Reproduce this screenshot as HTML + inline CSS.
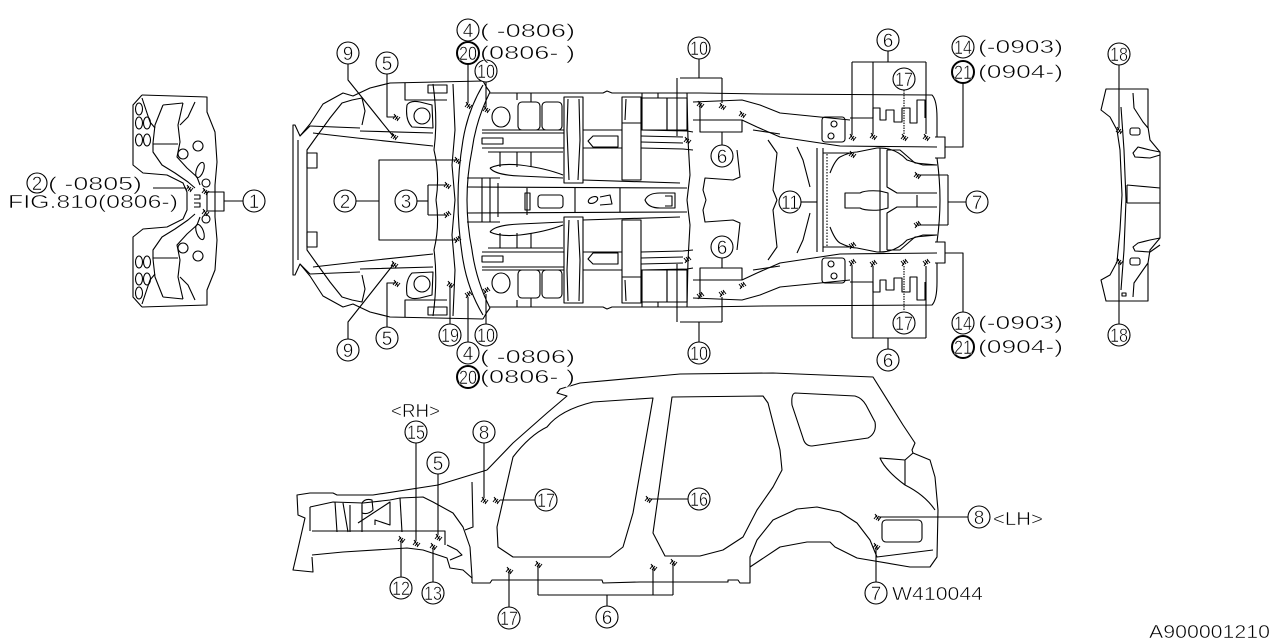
<!DOCTYPE html>
<html><head><meta charset="utf-8"><style>
html,body{margin:0;padding:0;background:#fff;}
svg{display:block;}
text{font-family:"Liberation Sans",sans-serif;fill:#000;stroke:#fff;stroke-width:0.5;}
</style></head><body>
<svg width="1280" height="640" viewBox="0 0 1280 640" xmlns="http://www.w3.org/2000/svg">
<defs>
<g id="mk" fill="none" stroke="#000" stroke-width="1"><path d="M-3,2 L0,-2 M-1,3 L2,-1 M1,4 L4,0 M-2,-3 L2,3"/></g>
</defs>
<rect width="1280" height="640" fill="#fff"/>
<g fill="none" stroke="#000" stroke-width="1.1" stroke-linejoin="round">

<!-- ===== LEFT PANEL (half, mirrored) ===== -->
<g id="lp">
<path d="M142,95 L207,97 L207,112 L215,132 L217,162 L215,185 L215,201"/>
<path d="M142,95 L133,105 L133,165 L143,173 L167,175 L183,183 L187,192 L187,201"/>
<path d="M163,105 L183,103 M163,105 L155,125 L153,143 L153,152 L162,165 L175,173 L188,182 L195,188"/>
<path d="M183,103 L178,125 L180,142 L177,157 L187,168 L197,177 L200,185"/>
<path d="M142,98 L150,122 L155,128"/>
<path d="M195,102 L188,117 L180,125"/>
<path d="M153,144 L178,144"/>
<ellipse cx="139" cy="109" rx="3.5" ry="6"/>
<ellipse cx="139" cy="123" rx="3.5" ry="6"/>
<ellipse cx="147" cy="123" rx="3.5" ry="6"/>
<ellipse cx="139" cy="140" rx="3.5" ry="6"/>
<ellipse cx="147" cy="140" rx="3.5" ry="6"/>
<circle cx="198" cy="146" r="5"/>
<circle cx="183" cy="154" r="5"/>
<ellipse cx="200" cy="170" rx="3.5" ry="8" transform="rotate(20 200 170)"/>
<circle cx="206" cy="183" r="4"/>
<path d="M194,195 L200,195 L200,199 L194,199"/>
</g>
<use href="#lp" transform="translate(0,402) scale(1,-1)"/>
<path d="M153,188 L186,188"/>
<rect x="207" y="192" width="17" height="19"/>
<path d="M224,201 L243,201"/>
<use href="#mk" x="189" y="188"/>
<use href="#mk" x="205" y="191"/>
<use href="#mk" x="205" y="212"/>

<!-- ===== UNDERBODY (half, mirrored) ===== -->
<g id="ub">
<path d="M483,81 L390,83 L370,88 L353,96 L343,93 L323,104 L310,124 L300,136 L295,125 L293,125 L293,200"/>
<path d="M298,200 L298,140"/>
<path d="M307,200 L307,150 L317,136 L330,118 L342,103 L352,100 L362,98 L365,111 L362,125"/>
<path d="M300,136 L310,126"/>
<path d="M310,126 L360,128 M360,131 L433,133"/>
<path d="M313,133 L357,138 L433,146"/>
<rect x="307" y="153" width="10" height="15"/>
<path d="M407,105 Q410,100 420,102 L432,105 L433,128 L412,127 Q405,120 407,105 Z"/>
<circle cx="422" cy="116" r="8"/>
<rect x="428" y="85" width="19" height="8"/>
<path d="M405,83 L405,100 L447,100"/>
<path d="M433,84 Q438,120 434,150 Q440,175 436,200"/>
<path d="M453,84 L455,130 L452,165 L455,200"/>
<path d="M483,85 Q468,110 463,140 Q458,170 458,200"/>
<path d="M490,92 Q476,120 472,150 Q467,175 467,200"/>
<path d="M483,81 L487,88 L490,92"/>
<path d="M490,93 L603,93 L607,91 L612,93 L700,93 L763,94 L932,95 Q937,100 937,118 L937,137"/>
<path d="M517,93 L517,100 M531,93 L531,102 M642,93 L642,98 M658,93 L658,98"/>
<path d="M482,130 L564,130 M482,133 L564,133"/>
<path d="M482,148 L564,148"/>
<rect x="482" y="138" width="21" height="6"/>
<ellipse cx="501" cy="117" rx="9" ry="10"/>
<rect x="518" y="102" width="22" height="28" rx="4"/>
<rect x="542" y="102" width="20" height="28" rx="4"/>
<rect x="564" y="97" width="19" height="86"/>
<path d="M568,99 L567,130 L569,180 M579,99 L580,140 L578,180"/>
<rect x="622" y="97" width="19" height="83"/>
<path d="M622,123 L641,123 M626,99 L625,120"/>
<path d="M583,130 L622,130 M583,148 L622,148"/>
<path d="M588,141 L593,136 L618,136 L618,147 L593,147 Z"/>
<path d="M641,130 L687,131 L693,132 M641,148 L683,149 L693,150"/>
<path d="M641,136 L683,137 M641,142 L683,143"/>
<rect x="642" y="98" width="25" height="32"/>
<rect x="667" y="98" width="20" height="32"/>
<path d="M488,152 L563,152 M500,152 L500,167 M517,152 L517,167 M531,152 L531,167"/>
<path d="M490,168 Q500,163 520,165 Q545,168 563,175"/>
<path d="M490,168 Q495,175 520,176 L563,178"/>
<path d="M583,180 L680,183"/>
<path d="M467,187 L687,188"/>
<path d="M482,178 L482,200 M490,178 L490,200 M498,183 L498,200 M467,178 L500,178"/>
<path d="M687,93 L688,140 L690,175 L687,200"/>
<path d="M693,102 L742,100 L760,105 L780,113 L820,117 L850,120"/>
<path d="M693,120 L742,120 L757,127 L780,137 L820,143 L840,146 L937,147"/>
<path d="M753,130 L780,134"/>
<path d="M768,140 L777,153 L773,190 L777,200"/>
<path d="M797,147 L803,160 L810,187"/>
<path d="M737,150 L740,177 L733,180 L705,178 L703,190 L706,200"/>
<path d="M817,148 L817,200 M823,148 L823,200"/>
<path d="M827,154 L827,200" stroke-dasharray="1.5,1.5"/>
<path d="M823,153 L850,153"/>
<path d="M830,173 Q835,160 840,157 Q850,152 857,152 L877,148 Q895,147 907,160 L923,165 L937,165"/>
<path d="M880,148 L880,200"/>
<path d="M887,150 L887,187 L897,193 L937,193"/>
<path d="M887,150 L900,150 L915,163 L937,165"/>
<rect x="822" y="117" width="23" height="25" rx="3"/>
<circle cx="834" cy="124" r="3"/>
<circle cx="831" cy="136" r="3"/>
<path d="M850,118 L873,118 L873,108 L880,108 L880,120 L886,120 L886,110 L894,110 L894,122 L902,122 L902,108 L910,108 L910,123 L917,123 L917,100 L925,100 L925,118"/>
<path d="M935,137 L945,137 L945,158 L935,158"/>
<path d="M937,158 Q940,180 940,200"/>
<path d="M457,160 L379,160 L379,200"/>
<path d="M428,185 L445,185 M428,185 L428,200"/>
<use href="#mk" x="457" y="160"/>
<use href="#mk" x="447" y="185"/>
<use href="#mk" x="468" y="105"/>
<use href="#mk" x="486" y="109"/>
<use href="#mk" x="687" y="140"/>
<use href="#mk" x="700" y="104"/>
<use href="#mk" x="722" y="106"/>
<use href="#mk" x="742" y="114"/>
<use href="#mk" x="852" y="137"/>
<use href="#mk" x="873" y="136"/>
<use href="#mk" x="904" y="137"/>
<use href="#mk" x="926" y="137"/>
<use href="#mk" x="852" y="154"/>
<use href="#mk" x="917" y="175"/>
<path d="M680,78 L722,78 M677,78 L677,136 M722,78 L722,103"/>
<path d="M700,102 L700,132 L742,132 L742,120 M722,132 L722,145"/>
<path d="M852,62 L926,62 M852,62 L852,135 M873,62 L873,134 M926,62 L926,134"/>
<path d="M904,90 L904,134" stroke-dasharray="1.5,1"/>
<path d="M963,83 L963,147 L945,147"/>
<path d="M948,175 L917,175 M948,175 L948,200"/>
</g>
<use href="#ub" transform="translate(0,400) scale(1,-1)"/>

<path d="M525,193 L530,193 L530,210 L525,210 Z M527,188 L527,215"/>
<rect x="538" y="195" width="25" height="13" rx="3"/>
<path d="M575,188 L575,212 M620,188 L620,212"/>
<ellipse cx="593" cy="200" rx="5" ry="3" transform="rotate(-25 593 200)"/>
<path d="M600,197 L610,195 L612,204 L600,205"/>
<path d="M645,200 Q648,193 660,193 L675,193 L675,208 L660,208 Q648,208 645,200 Z M665,196 L672,196 L672,206 L665,206"/>
<path d="M845,193 L860,193 Q865,190 880,191 L888,193 L888,208 L880,210 Q865,211 860,208 L845,208 Z"/>
<path d="M917,195 L917,207"/>
<path d="M348,64 L348,80 L393,136"/>
<path d="M387,74 L387,117 L395,117"/>
<path d="M468,64 L468,103"/>
<path d="M486,82 L486,107"/>
<path d="M356,201 L379,201"/>
<path d="M417,201 L428,201"/>
<path d="M348,339 L348,322 L393,265"/>
<path d="M387,327 L387,283 L395,283"/>
<path d="M450,324 L450,285"/>
<use href="#mk" x="450" y="284"/>
<path d="M468,342 L468,297"/>
<path d="M486,324 L486,294"/>
<use href="#mk" x="394" y="136"/>
<use href="#mk" x="396" y="117"/>
<use href="#mk" x="394" y="264"/>
<use href="#mk" x="396" y="283"/>
<path d="M699,59 L699,78 M699,342 L699,322"/>
<path d="M888,51 L888,62 M888,349 L888,338"/>
<path d="M801,202 L817,202"/>
<path d="M966,202 L948,202"/>

<!-- ===== RIGHT PANEL ===== -->
<path d="M1106,89 L1148,89 L1148,127 L1150,140 L1160,152 L1160,238 L1150,250 L1148,263 L1148,301 L1106,301 L1101,280 L1110,275 L1117,262 L1120,230 L1122,195 L1120,150 L1117,130 L1110,117 L1101,110 Z"/>
<path d="M1121,107 L1124,150 L1126,200 L1124,250 L1121,290"/>
<path d="M1127,185 L1160,188 M1127,203 L1160,203 M1127,185 L1127,203"/>
<path d="M1133,93 L1134,108 L1143,122 L1148,128"/>
<path d="M1133,297 L1134,283 L1143,270 L1148,263"/>
<path d="M1160,152 L1150,150 L1138,147 L1133,153 L1135,157 L1150,158 L1160,155"/>
<path d="M1160,238 L1150,240 L1138,243 L1133,247 L1135,251 L1150,252 L1160,245"/>
<rect x="1130" y="128" width="10" height="7" rx="2"/>
<rect x="1130" y="258" width="10" height="7" rx="2"/>
<rect x="1122" y="293" width="4" height="3"/>
<path d="M1119,65 L1119,128 M1119,324 L1119,262"/>
<use href="#mk" x="1119" y="130"/>
<use href="#mk" x="1119" y="261"/>

<!-- ===== SIDE VIEW ===== -->
<path d="M487,470 L438,485 L373,495 L337,495 L333,493 L310,493 L297,495 L298,515 L305,518 L297,553 L293,570 L313,572 L312,557"/>
<path d="M310,507 L333,502 L363,503 L390,500 L400,498 L423,497 L433,502 L453,513 L463,527 L470,547 L472,577 L472,583"/>
<path d="M310,507 L310,531"/>
<path d="M312,531 L445,531 L445,545"/>
<path d="M312,555 L343,552 L407,548 L423,550 L447,558 L450,568 L463,570 L472,578"/>
<path d="M335,502 L337,532 M343,503 L348,532 M350,505 L350,532 M362,505 L362,532"/>
<path d="M362,503 Q365,498 372,500 L373,510 Q368,515 362,513 Z"/>
<path d="M358,523 L390,502 L390,525 L375,520 L375,525"/>
<path d="M400,498 L402,532"/>
<path d="M447,545 L457,550 L462,555 L450,560"/>
<path d="M472,482 L473,527 L465,530"/>
<path d="M487,470 L513,443 L547,413 L567,396 L557,393 L560,389 L580,383 L647,377 L680,374 L773,373 L873,377 L903,425 L915,443 L912,450 L913,453 L930,460 L935,477 L938,510 L937,557 L930,567 L910,567 L857,558 L835,547 L830,542 L807,542 L780,547 L750,567 L750,583 L740,583 L738,580 L728,580 L728,582 L640,582 L603,583 L602,580 L492,580 L490,583 L472,583"/>
<path d="M653,398 L633,513 L623,547 L610,557 L513,557 L498,547 L497,527 L510,470 L513,457 Q530,435 547,427 Q560,410 593,402 L653,398 Z"/>
<path d="M672,397 L763,396 L768,403 L780,450 L782,470 L773,487 L757,510 L743,537 L723,550 L700,556 L665,556 L653,533 L672,397 Z"/>
<path d="M795,393 L855,396 Q862,398 866,405 L875,422 Q877,433 868,438 L812,446 Q805,446 803,438 L792,405 Q791,394 795,393 Z"/>
<path d="M913,453 L905,460 L880,458 Q885,470 905,485 Q925,495 935,510 M905,460 L905,485"/>
<path d="M750,567 L750,557 L757,540 L773,520 L797,509 L817,507 L840,512 L857,523 L870,540 L877,557 L933,550"/>
<rect x="882" y="520" width="40" height="22" rx="4"/>
<path d="M416,443 L416,541 M438,474 L438,535 M484,443 L484,498 M535,500 L500,500 M401,577 L401,541 M433,582 L433,548 M509,607 L509,571"/>
<path d="M607,606 L607,595 M538,595 L673,595 M538,595 L538,565 M653,595 L653,569 M673,595 L673,563"/>
<path d="M688,499 L650,499 M968,517 L879,517 M876,582 L876,547"/>
<use href="#mk" x="416" y="543"/>
<use href="#mk" x="438" y="537"/>
<use href="#mk" x="484" y="500"/>
<use href="#mk" x="496" y="500"/>
<use href="#mk" x="401" y="539"/>
<use href="#mk" x="433" y="546"/>
<use href="#mk" x="509" y="570"/>
<use href="#mk" x="538" y="564"/>
<use href="#mk" x="653" y="567"/>
<use href="#mk" x="673" y="562"/>
<use href="#mk" x="648" y="499"/>
<use href="#mk" x="877" y="517"/>
<use href="#mk" x="876" y="546"/>
</g>

<!-- ===== CIRCLE LABELS ===== -->
<g fill="#fff" stroke="#000" stroke-width="1.1">
<circle cx="37" cy="183" r="10"/><circle cx="254" cy="201" r="11"/>
<circle cx="348" cy="53" r="11"/><circle cx="387" cy="63" r="11"/><circle cx="468" cy="30" r="11"/>
<circle cx="468" cy="53" r="11" stroke-width="2"/><circle cx="486" cy="71" r="11"/><circle cx="699" cy="48" r="11"/>
<circle cx="888" cy="40" r="11"/><circle cx="904" cy="79" r="11"/><circle cx="963" cy="47" r="11"/>
<circle cx="963" cy="72" r="11" stroke-width="2"/><circle cx="1119" cy="54" r="11"/>
<circle cx="345" cy="201" r="11"/><circle cx="406" cy="201" r="11"/><circle cx="722" cy="156" r="11"/>
<circle cx="790" cy="202" r="11"/><circle cx="977" cy="202" r="11"/><circle cx="722" cy="247" r="11"/>
<circle cx="348" cy="350" r="11"/><circle cx="387" cy="338" r="11"/><circle cx="450" cy="335" r="11"/>
<circle cx="486" cy="335" r="11"/><circle cx="468" cy="353" r="11"/><circle cx="468" cy="377" r="11" stroke-width="2"/>
<circle cx="699" cy="353" r="11"/><circle cx="888" cy="360" r="11"/><circle cx="904" cy="323" r="11"/>
<circle cx="963" cy="323" r="11"/><circle cx="963" cy="347" r="11" stroke-width="2"/><circle cx="1119" cy="335" r="11"/>
<circle cx="416" cy="432" r="11"/><circle cx="438" cy="463" r="11"/><circle cx="484" cy="432" r="11"/>
<circle cx="546" cy="500" r="11"/><circle cx="401" cy="588" r="11"/><circle cx="433" cy="593" r="11"/>
<circle cx="509" cy="618" r="11"/><circle cx="607" cy="617" r="11"/><circle cx="699" cy="499" r="11"/>
<circle cx="979" cy="517" r="11"/><circle cx="876" cy="593" r="11"/>
</g>
<g font-size="19" text-anchor="middle">
<text x="37" y="190">2</text><text x="254" y="208">1</text>
<text x="348" y="60">9</text><text x="387" y="70">5</text><text x="468" y="37">4</text>
<text x="468" y="60" textLength="18" lengthAdjust="spacingAndGlyphs">20</text>
<text x="486" y="78" textLength="18" lengthAdjust="spacingAndGlyphs">10</text>
<text x="699" y="55" textLength="18" lengthAdjust="spacingAndGlyphs">10</text>
<text x="888" y="47">6</text>
<text x="904" y="86" textLength="18" lengthAdjust="spacingAndGlyphs">17</text>
<text x="963" y="54" textLength="18" lengthAdjust="spacingAndGlyphs">14</text>
<text x="963" y="79" textLength="18" lengthAdjust="spacingAndGlyphs">21</text>
<text x="1119" y="61" textLength="18" lengthAdjust="spacingAndGlyphs">18</text>
<text x="345" y="208">2</text><text x="406" y="208">3</text><text x="722" y="163">6</text>
<text x="790" y="209" textLength="18" lengthAdjust="spacingAndGlyphs">11</text>
<text x="977" y="209">7</text><text x="722" y="254">6</text>
<text x="348" y="357">9</text><text x="387" y="345">5</text>
<text x="450" y="342" textLength="18" lengthAdjust="spacingAndGlyphs">19</text>
<text x="486" y="342" textLength="18" lengthAdjust="spacingAndGlyphs">10</text>
<text x="468" y="360">4</text>
<text x="468" y="384" textLength="18" lengthAdjust="spacingAndGlyphs">20</text>
<text x="699" y="360" textLength="18" lengthAdjust="spacingAndGlyphs">10</text>
<text x="888" y="367">6</text>
<text x="904" y="330" textLength="18" lengthAdjust="spacingAndGlyphs">17</text>
<text x="963" y="330" textLength="18" lengthAdjust="spacingAndGlyphs">14</text>
<text x="963" y="354" textLength="18" lengthAdjust="spacingAndGlyphs">21</text>
<text x="1119" y="342" textLength="18" lengthAdjust="spacingAndGlyphs">18</text>
<text x="416" y="439" textLength="18" lengthAdjust="spacingAndGlyphs">15</text>
<text x="438" y="470">5</text><text x="484" y="439">8</text>
<text x="546" y="507" textLength="18" lengthAdjust="spacingAndGlyphs">17</text>
<text x="401" y="595" textLength="18" lengthAdjust="spacingAndGlyphs">12</text>
<text x="433" y="600" textLength="18" lengthAdjust="spacingAndGlyphs">13</text>
<text x="509" y="625" textLength="18" lengthAdjust="spacingAndGlyphs">17</text>
<text x="607" y="624">6</text>
<text x="699" y="506" textLength="18" lengthAdjust="spacingAndGlyphs">16</text>
<text x="979" y="524">8</text><text x="876" y="600">7</text>
</g>

<!-- ===== TEXT ===== -->
<g font-size="18">
<text x="48" y="190" textLength="94" lengthAdjust="spacingAndGlyphs">( -0805)</text>
<text x="8" y="208" textLength="170" lengthAdjust="spacingAndGlyphs">FIG.810(0806-)</text>
<text x="480" y="37" textLength="95" lengthAdjust="spacingAndGlyphs">( -0806)</text>
<text x="480" y="59" textLength="95" lengthAdjust="spacingAndGlyphs">(0806- )</text>
<text x="480" y="363" textLength="95" lengthAdjust="spacingAndGlyphs">( -0806)</text>
<text x="480" y="383" textLength="95" lengthAdjust="spacingAndGlyphs">(0806- )</text>
<text x="978" y="53" textLength="85" lengthAdjust="spacingAndGlyphs">(-0903)</text>
<text x="978" y="78" textLength="85" lengthAdjust="spacingAndGlyphs">(0904-)</text>
<text x="978" y="329" textLength="85" lengthAdjust="spacingAndGlyphs">(-0903)</text>
<text x="978" y="353" textLength="85" lengthAdjust="spacingAndGlyphs">(0904-)</text>
<text x="391" y="417" textLength="49" lengthAdjust="spacingAndGlyphs">&lt;RH&gt;</text>
<text x="993" y="525" textLength="50" lengthAdjust="spacingAndGlyphs">&lt;LH&gt;</text>
<text x="892" y="600" textLength="91" lengthAdjust="spacingAndGlyphs">W410044</text>
<text x="1149" y="638" textLength="121" lengthAdjust="spacingAndGlyphs">A900001210</text>
</g>
</svg>
</body></html>
